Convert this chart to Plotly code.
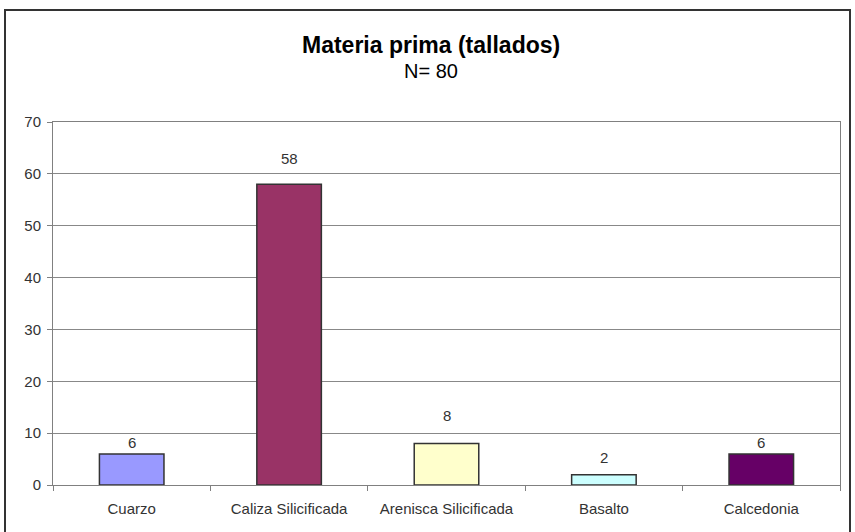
import plotly.graph_objects as go

categories = ["Cuarzo", "Caliza Silicificada", "Arenisca Silicificada", "Basalto", "Calcedonia"]
values = [6, 58, 8, 2, 6]
colors = ["#9999FF", "#993366", "#FFFFCC", "#CCFFFF", "#660066"]
y_ticks = [0, 10, 20, 30, 40, 50, 60, 70]
label_offsets = [11, 26, 28, 17, 11]  # pixel offsets of data labels above bar tops

W, H = 855, 532
L, R, T, B = 53, 15, 122, 47
pw, ph = W - L - R, H - T - B
FONT = "Liberation Sans, Arial"

def px_x(x):
    return (x - L) / pw

def px_y(y):
    return (H - B - y) / ph

fig = go.Figure(go.Bar(
    x=categories, y=values,
    marker=dict(color=colors, line=dict(color="#333333", width=1.5)),
    width=0.41,
))

annotations = [
    dict(text="<b>Materia prima (tallados)</b>", x=px_x(431), y=px_y(45), xref="paper", yref="paper",
         showarrow=False, font=dict(size=23, color="#000000"), xanchor="center", yanchor="middle"),
    dict(text="N= 80", x=px_x(431), y=px_y(71), xref="paper", yref="paper",
         showarrow=False, font=dict(size=20, color="#000000"), xanchor="center", yanchor="middle"),
]
for c, v, off in zip(categories, values, label_offsets):
    annotations.append(dict(text=str(v), x=c, y=v, xref="x", yref="y", yshift=off,
                            showarrow=False, xanchor="center", yanchor="middle",
                            font=dict(size=15, color="#333333")))

fig.update_layout(
    width=W, height=H,
    margin=dict(l=L, r=R, t=T, b=B),
    paper_bgcolor="white", plot_bgcolor="white",
    showlegend=False,
    font=dict(family=FONT, size=15, color="#333333"),
    xaxis=dict(
        showline=True, linecolor="#808080", linewidth=1, mirror=True,
        ticks="outside", tickson="boundaries", ticklen=5, tickcolor="#808080",
        showgrid=False, tickfont=dict(size=15, color="#333333"), ticklabelstandoff=10,
    ),
    yaxis=dict(
        range=[0, 70], tickvals=y_ticks,
        showline=True, linecolor="#808080", linewidth=1, mirror=True,
        ticks="outside", ticklen=5, tickcolor="#808080",
        showgrid=True, gridcolor="#888888", gridwidth=1,
        tickfont=dict(size=15, color="#333333"), zeroline=False, ticklabelstandoff=3,
    ),
    annotations=annotations,
    shapes=[
        dict(type="rect", xref="paper", yref="paper",
             x0=px_x(5), x1=px_x(850), y0=px_y(545), y1=px_y(10),
             line=dict(color="#333333", width=2), layer="below"),
    ],
)

fig.write_html("out.html")
